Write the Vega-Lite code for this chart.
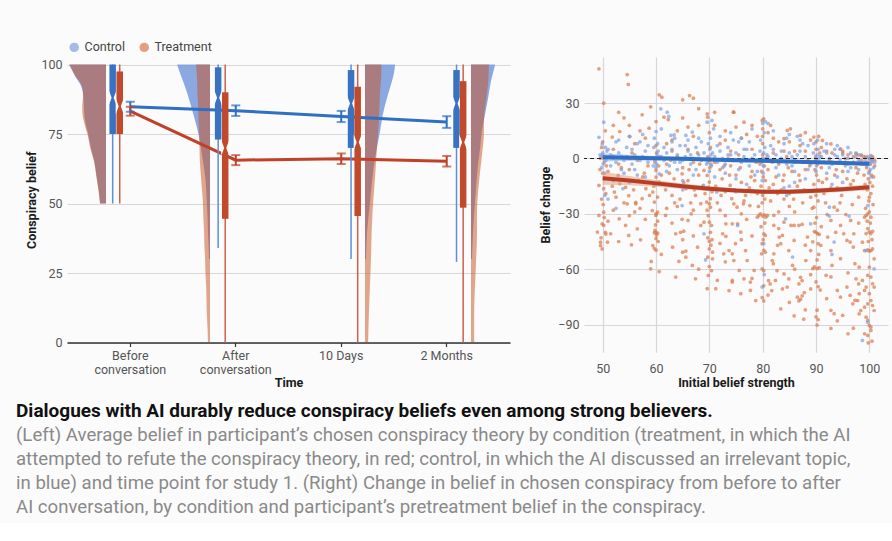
{
"$schema": "https://vega.github.io/schema/vega-lite/v6.json",
"background": "#fbfbfb",
"padding": {"left": 16, "top": 41, "right": 4, "bottom": 6},
"spacing": 29,
"title": {
 "text": "Dialogues with AI durably reduce conspiracy beliefs even among strong believers.",
 "subtitle": ["(Left) Average belief in participant’s chosen conspiracy theory by condition (treatment, in which the AI", "attempted to refute the conspiracy theory, in red; control, in which the AI discussed an irrelevant topic,", "in blue) and time point for study 1. (Right) Change in belief in chosen conspiracy from before to after", "AI conversation, by condition and participant’s pretreatment belief in the conspiracy."],
 "orient": "bottom", "anchor": "start", "frame": "group", "offset": 13, "dx": -51,
 "fontSize": 19, "fontWeight": "bold", "color": "#111111",
 "subtitleFontSize": 18.6, "subtitleColor": "#8a8a8a", "subtitleLineHeight": 24, "subtitlePadding": 5
},
"datasets": {
 "violin": [
  {"t":"Before conversation","c":"Control","v":50,"dens":0.17},{"t":"Before conversation","c":"Control","v":55,"dens":0.21},{"t":"Before conversation","c":"Control","v":60,"dens":0.27},{"t":"Before conversation","c":"Control","v":65,"dens":0.33},{"t":"Before conversation","c":"Control","v":70,"dens":0.43},{"t":"Before conversation","c":"Control","v":75,"dens":0.51},{"t":"Before conversation","c":"Control","v":80,"dens":0.6},{"t":"Before conversation","c":"Control","v":85,"dens":0.63},{"t":"Before conversation","c":"Control","v":90,"dens":0.66},{"t":"Before conversation","c":"Control","v":93,"dens":0.74},{"t":"Before conversation","c":"Control","v":96,"dens":0.89},{"t":"Before conversation","c":"Control","v":98,"dens":0.97},{"t":"Before conversation","c":"Control","v":100,"dens":1.06},
  {"t":"Before conversation","c":"Treatment","v":50,"dens":0.17},{"t":"Before conversation","c":"Treatment","v":55,"dens":0.22},{"t":"Before conversation","c":"Treatment","v":60,"dens":0.28},{"t":"Before conversation","c":"Treatment","v":65,"dens":0.34},{"t":"Before conversation","c":"Treatment","v":70,"dens":0.45},{"t":"Before conversation","c":"Treatment","v":75,"dens":0.53},{"t":"Before conversation","c":"Treatment","v":78,"dens":0.6},{"t":"Before conversation","c":"Treatment","v":82,"dens":0.67},{"t":"Before conversation","c":"Treatment","v":85,"dens":0.68},{"t":"Before conversation","c":"Treatment","v":88,"dens":0.66},{"t":"Before conversation","c":"Treatment","v":90,"dens":0.66},{"t":"Before conversation","c":"Treatment","v":93,"dens":0.71},{"t":"Before conversation","c":"Treatment","v":96,"dens":0.88},{"t":"Before conversation","c":"Treatment","v":98,"dens":0.97},{"t":"Before conversation","c":"Treatment","v":100,"dens":1.03},
  {"t":"After conversation","c":"Control","v":30,"dens":0.03},{"t":"After conversation","c":"Control","v":35,"dens":0.04},{"t":"After conversation","c":"Control","v":40,"dens":0.06},{"t":"After conversation","c":"Control","v":45,"dens":0.07},{"t":"After conversation","c":"Control","v":50,"dens":0.09},{"t":"After conversation","c":"Control","v":55,"dens":0.11},{"t":"After conversation","c":"Control","v":60,"dens":0.14},{"t":"After conversation","c":"Control","v":65,"dens":0.2},{"t":"After conversation","c":"Control","v":70,"dens":0.26},{"t":"After conversation","c":"Control","v":75,"dens":0.33},{"t":"After conversation","c":"Control","v":80,"dens":0.43},{"t":"After conversation","c":"Control","v":85,"dens":0.54},{"t":"After conversation","c":"Control","v":90,"dens":0.66},{"t":"After conversation","c":"Control","v":94,"dens":0.77},{"t":"After conversation","c":"Control","v":97,"dens":0.86},{"t":"After conversation","c":"Control","v":100,"dens":0.94},
  {"t":"After conversation","c":"Treatment","v":0,"dens":0.06},{"t":"After conversation","c":"Treatment","v":5,"dens":0.07},{"t":"After conversation","c":"Treatment","v":10,"dens":0.09},{"t":"After conversation","c":"Treatment","v":15,"dens":0.1},{"t":"After conversation","c":"Treatment","v":20,"dens":0.11},{"t":"After conversation","c":"Treatment","v":25,"dens":0.13},{"t":"After conversation","c":"Treatment","v":30,"dens":0.14},{"t":"After conversation","c":"Treatment","v":35,"dens":0.16},{"t":"After conversation","c":"Treatment","v":40,"dens":0.17},{"t":"After conversation","c":"Treatment","v":45,"dens":0.19},{"t":"After conversation","c":"Treatment","v":50,"dens":0.2},{"t":"After conversation","c":"Treatment","v":55,"dens":0.23},{"t":"After conversation","c":"Treatment","v":60,"dens":0.26},{"t":"After conversation","c":"Treatment","v":65,"dens":0.29},{"t":"After conversation","c":"Treatment","v":70,"dens":0.3},{"t":"After conversation","c":"Treatment","v":75,"dens":0.31},{"t":"After conversation","c":"Treatment","v":80,"dens":0.33},{"t":"After conversation","c":"Treatment","v":85,"dens":0.34},{"t":"After conversation","c":"Treatment","v":90,"dens":0.36},{"t":"After conversation","c":"Treatment","v":95,"dens":0.37},{"t":"After conversation","c":"Treatment","v":100,"dens":0.4},
  {"t":"10 Days","c":"Control","v":30,"dens":0.03},{"t":"10 Days","c":"Control","v":40,"dens":0.06},{"t":"10 Days","c":"Control","v":50,"dens":0.14},{"t":"10 Days","c":"Control","v":58,"dens":0.2},{"t":"10 Days","c":"Control","v":64,"dens":0.26},{"t":"10 Days","c":"Control","v":70,"dens":0.34},{"t":"10 Days","c":"Control","v":76,"dens":0.43},{"t":"10 Days","c":"Control","v":82,"dens":0.51},{"t":"10 Days","c":"Control","v":88,"dens":0.63},{"t":"10 Days","c":"Control","v":94,"dens":0.77},{"t":"10 Days","c":"Control","v":97,"dens":0.83},{"t":"10 Days","c":"Control","v":100,"dens":0.86},
  {"t":"10 Days","c":"Treatment","v":0,"dens":0.09},{"t":"10 Days","c":"Treatment","v":10,"dens":0.11},{"t":"10 Days","c":"Treatment","v":20,"dens":0.14},{"t":"10 Days","c":"Treatment","v":30,"dens":0.17},{"t":"10 Days","c":"Treatment","v":40,"dens":0.19},{"t":"10 Days","c":"Treatment","v":50,"dens":0.23},{"t":"10 Days","c":"Treatment","v":60,"dens":0.29},{"t":"10 Days","c":"Treatment","v":70,"dens":0.34},{"t":"10 Days","c":"Treatment","v":80,"dens":0.4},{"t":"10 Days","c":"Treatment","v":90,"dens":0.43},{"t":"10 Days","c":"Treatment","v":95,"dens":0.46},{"t":"10 Days","c":"Treatment","v":100,"dens":0.47},
  {"t":"2 Months","c":"Control","v":30,"dens":0.03},{"t":"2 Months","c":"Control","v":40,"dens":0.06},{"t":"2 Months","c":"Control","v":50,"dens":0.11},{"t":"2 Months","c":"Control","v":55,"dens":0.14},{"t":"2 Months","c":"Control","v":64,"dens":0.2},{"t":"2 Months","c":"Control","v":70,"dens":0.26},{"t":"2 Months","c":"Control","v":76,"dens":0.31},{"t":"2 Months","c":"Control","v":82,"dens":0.4},{"t":"2 Months","c":"Control","v":88,"dens":0.49},{"t":"2 Months","c":"Control","v":94,"dens":0.57},{"t":"2 Months","c":"Control","v":97,"dens":0.63},{"t":"2 Months","c":"Control","v":100,"dens":0.69},
  {"t":"2 Months","c":"Treatment","v":0,"dens":0.09},{"t":"2 Months","c":"Treatment","v":10,"dens":0.09},{"t":"2 Months","c":"Treatment","v":16,"dens":0.1},{"t":"2 Months","c":"Treatment","v":25,"dens":0.13},{"t":"2 Months","c":"Treatment","v":40,"dens":0.17},{"t":"2 Months","c":"Treatment","v":46,"dens":0.17},{"t":"2 Months","c":"Treatment","v":58,"dens":0.23},{"t":"2 Months","c":"Treatment","v":66,"dens":0.3},{"t":"2 Months","c":"Treatment","v":76,"dens":0.37},{"t":"2 Months","c":"Treatment","v":80,"dens":0.37},{"t":"2 Months","c":"Treatment","v":90,"dens":0.46},{"t":"2 Months","c":"Treatment","v":95,"dens":0.5},{"t":"2 Months","c":"Treatment","v":100,"dens":0.51}
 ],
 "boxes": [
  {"t":"Before conversation","c":"Control","lo":50,"q1":75,"med":88,"q3":100,"hi":100},
  {"t":"Before conversation","c":"Treatment","lo":50,"q1":75,"med":85,"q3":97.5,"hi":100},
  {"t":"After conversation","c":"Control","lo":34,"q1":73,"med":88,"q3":99,"hi":100},
  {"t":"After conversation","c":"Treatment","lo":0,"q1":44.5,"med":70,"q3":90,"hi":100},
  {"t":"10 Days","c":"Control","lo":30,"q1":70,"med":86,"q3":98,"hi":100},
  {"t":"10 Days","c":"Treatment","lo":0,"q1":45.5,"med":72,"q3":92,"hi":100},
  {"t":"2 Months","c":"Control","lo":29,"q1":70,"med":86,"q3":98,"hi":100},
  {"t":"2 Months","c":"Treatment","lo":0,"q1":48.5,"med":72,"q3":94,"hi":100}
 ],
 "means": [
  {"t":"Before conversation","c":"Control","m":84.8,"lo":83,"hi":86.6},
  {"t":"After conversation","c":"Control","m":83.4,"lo":81.5,"hi":85.3},
  {"t":"10 Days","c":"Control","m":81.3,"lo":79.3,"hi":83.3},
  {"t":"2 Months","c":"Control","m":79.3,"lo":77.2,"hi":81.4},
  {"t":"Before conversation","c":"Treatment","m":83.2,"lo":81.6,"hi":84.8},
  {"t":"After conversation","c":"Treatment","m":65.6,"lo":63.8,"hi":67.4},
  {"t":"10 Days","c":"Treatment","m":66.1,"lo":64.2,"hi":68},
  {"t":"2 Months","c":"Treatment","m":65.2,"lo":63.3,"hi":67.1}
 ],
 "trend": [
  {"c":"Control","b":50,"fit":0.6,"lo":-1.6,"hi":2.8},{"c":"Control","b":55,"fit":0.35,"lo":-1.2,"hi":1.9},{"c":"Control","b":60,"fit":0.1,"lo":-1.1,"hi":1.3},{"c":"Control","b":65,"fit":-0.2,"lo":-1.1,"hi":0.7},{"c":"Control","b":70,"fit":-0.5,"lo":-1.3,"hi":0.3},{"c":"Control","b":75,"fit":-0.9,"lo":-1.7,"hi":-0.1},{"c":"Control","b":80,"fit":-1.3,"lo":-2.1,"hi":-0.5},{"c":"Control","b":85,"fit":-1.7,"lo":-2.5,"hi":-0.9},{"c":"Control","b":90,"fit":-2.1,"lo":-2.9,"hi":-1.3},{"c":"Control","b":95,"fit":-2.5,"lo":-3.4,"hi":-1.6},{"c":"Control","b":100,"fit":-2.9,"lo":-4.1,"hi":-1.7},
  {"c":"Treatment","b":50,"fit":-10.7,"lo":-14.2,"hi":-7.2},{"c":"Treatment","b":55,"fit":-12,"lo":-14.5,"hi":-9.5},{"c":"Treatment","b":60,"fit":-13.5,"lo":-15.3,"hi":-11.7},{"c":"Treatment","b":65,"fit":-15.1,"lo":-16.6,"hi":-13.6},{"c":"Treatment","b":70,"fit":-16.4,"lo":-17.7,"hi":-15.1},{"c":"Treatment","b":75,"fit":-17.4,"lo":-18.6,"hi":-16.2},{"c":"Treatment","b":80,"fit":-18,"lo":-19.2,"hi":-16.8},{"c":"Treatment","b":85,"fit":-18,"lo":-19.2,"hi":-16.8},{"c":"Treatment","b":90,"fit":-17.5,"lo":-18.8,"hi":-16.2},{"c":"Treatment","b":95,"fit":-16.7,"lo":-18.1,"hi":-15.3},{"c":"Treatment","b":100,"fit":-15.6,"lo":-17.2,"hi":-14}
 ],
 "ptsT": [
  {"b":49.3,"d":48.6},{"b":54.6,"d":45.5},{"b":54.8,"d":40.1},{"b":50.2,"d":30},{"b":60.6,"d":34.5},{"b":61.1,"d":33.2},{"b":65,"d":31.8},{"b":66.3,"d":34.1},{"b":67,"d":32.7},{"b":57.4,"d":23.7},{"b":69.6,"d":24.2},{"b":69.7,"d":22.4},{"b":74.5,"d":25.1},{"b":58.7,"d":16.4},{"b":61.5,"d":22.4},{"b":62.3,"d":21.1},{"b":53.2,"d":14.6},{"b":51.8,"d":11.6},{"b":55.1,"d":11.9},{"b":74.6,"d":25.1},{"b":76.5,"d":19.7},{"b":79.9,"d":20.6},{"b":80.2,"d":21.5},{"b":81.5,"d":17.9},{"b":84.6,"d":15.2},{"b":85.2,"d":16.1},{"b":87.1,"d":12.5},{"b":84,"d":10.7},{"b":89.6,"d":11.6},{"b":91.2,"d":9.8},{"b":92.8,"d":7.9},{"b":94.6,"d":5.2},{"b":66,"d":17},{"b":67,"d":12},{"b":63,"d":10},{"b":56,"d":8},{"b":52,"d":5},{"b":70,"d":14},{"b":73,"d":10},{"b":79,"d":12},{"b":83,"d":9},{"b":87,"d":7},{"b":89,"d":10},{"b":75,"d":17},{"b":78,"d":18},{"b":72,"d":8},{"b":50,"d":9},{"b":49.8,"d":6},{"b":60,"d":7},{"b":70.2,"d":6},{"b":80,"d":8},{"b":90,"d":9},{"b":68,"d":27},{"b":71,"d":18},{"b":64,"d":15},{"b":54,"d":22},{"b":52,"d":18},{"b":88,"d":14},{"b":90.5,"d":12},{"b":81,"d":14},{"b":76,"d":11},{"b":95,"d":4},{"b":98.5,"d":1.5},{"b":97.5,"d":2.5},
  {"b":50.5,"d":15},{"b":53,"d":25},{"b":57,"d":15},{"b":59,"d":28},{"b":62,"d":8},{"b":65,"d":22},{"b":68,"d":18},{"b":71,"d":25},{"b":73,"d":15},{"b":77,"d":13},{"b":80,"d":16},{"b":82,"d":11},{"b":85,"d":9},{"b":88,"d":4},{"b":91,"d":6},{"b":93,"d":3},{"b":96,"d":2},{"b":99,"d":1},{"b":66,"d":5},{"b":58,"d":11},{"b":63,"d":4},{"b":74,"d":4},{"b":84,"d":4},{"b":78,"d":5},{"b":90,"d":5},{"b":80,"d":12},{"b":60,"d":20},{"b":55,"d":18},
  {"b":50,"d":2},{"b":49.6,"d":0},{"b":50.3,"d":-2},{"b":50.7,"d":-4},{"b":49.5,"d":-6},{"b":50,"d":-8},{"b":50.4,"d":-11},{"b":49.3,"d":-14.6},{"b":50.2,"d":-16.4},{"b":50.6,"d":-19},{"b":49.8,"d":-22},{"b":50.1,"d":-25},
  {"b":51.8,"d":-15},{"b":52.9,"d":-9.2},{"b":53.2,"d":-13.7},{"b":52.2,"d":-18.2},{"b":54.3,"d":-15.6},{"b":54.9,"d":-20.2},{"b":56.2,"d":-23.8},{"b":58.1,"d":-16.4},{"b":57.4,"d":-21.8},{"b":53,"d":-3},{"b":55,"d":-6},{"b":56.5,"d":-1},{"b":57.5,"d":-10},{"b":58.5,"d":-4},{"b":52,"d":1},{"b":55.5,"d":3},{"b":54,"d":-24},{"b":56.8,"d":-12},
  {"b":60,"d":-6.5},{"b":60,"d":-10.1},{"b":60.6,"d":-12.8},{"b":59.4,"d":-18.2},{"b":60.3,"d":-20.9},{"b":59.7,"d":-23.6},{"b":60.2,"d":0},{"b":59.8,"d":-2},{"b":60.5,"d":-4},{"b":60.1,"d":3},{"b":59.6,"d":-15},
  {"b":63.4,"d":-11},{"b":64.9,"d":-8.3},{"b":65.6,"d":-16.4},{"b":67.4,"d":-20},{"b":68.4,"d":-24.5},{"b":62,"d":-3},{"b":63,"d":-20},{"b":64,"d":1},{"b":65,"d":-5},{"b":66,"d":-12},{"b":67,"d":-2},{"b":68,"d":-9},{"b":61.5,"d":-14},{"b":66.5,"d":-24},{"b":62.5,"d":-8},{"b":64.5,"d":-22},{"b":67.8,"d":3},{"b":68.8,"d":-15},
  {"b":69,"d":-6.5},{"b":69.6,"d":-9.2},{"b":70,"d":-12.8},{"b":69.8,"d":-15.5},{"b":70.2,"d":-21.8},{"b":69.5,"d":-23.6},{"b":70,"d":-1},{"b":70.3,"d":-3},{"b":69.7,"d":1},{"b":70.5,"d":-18},{"b":70.1,"d":-5},
  {"b":72.4,"d":-11},{"b":73.9,"d":-14.6},{"b":74.2,"d":-21.8},{"b":71,"d":-2},{"b":72,"d":-6},{"b":73,"d":-18},{"b":74,"d":-4},{"b":75,"d":-9},{"b":76,"d":-13},{"b":77,"d":-1},{"b":78,"d":-7},{"b":79,"d":-19},{"b":71.5,"d":-24},{"b":76.5,"d":-23},{"b":75.5,"d":2},{"b":78.5,"d":-12},{"b":77.5,"d":-16},{"b":73.5,"d":0},{"b":79.5,"d":-3},
  {"b":80,"d":-1},{"b":80.3,"d":-4},{"b":79.8,"d":-7},{"b":80.1,"d":-10},{"b":80.5,"d":-12},{"b":79.7,"d":-15},{"b":80.2,"d":-18},{"b":80,"d":-20},{"b":80.4,"d":-22},{"b":79.9,"d":-24},{"b":80,"d":2},{"b":80.6,"d":0},
  {"b":81,"d":-6},{"b":82,"d":-14},{"b":83,"d":-3},{"b":84,"d":-9},{"b":85,"d":-19},{"b":86,"d":-2},{"b":87,"d":-12},{"b":88,"d":-6},{"b":89,"d":-21},{"b":81.5,"d":-23},{"b":82.5,"d":-10},{"b":83.5,"d":-17},{"b":84.5,"d":1},{"b":85.5,"d":-7},{"b":86.5,"d":-15},{"b":87.5,"d":-24},{"b":88.5,"d":-1},{"b":82,"d":3},{"b":86,"d":4},{"b":84,"d":-22},
  {"b":90,"d":-1},{"b":90.3,"d":-3},{"b":89.8,"d":-6},{"b":90.1,"d":-9},{"b":90.5,"d":-12},{"b":89.6,"d":-14},{"b":90.2,"d":-17},{"b":90,"d":-20},{"b":90.4,"d":-23},{"b":89.9,"d":1},{"b":90.7,"d":3},
  {"b":91,"d":-5},{"b":92,"d":-11},{"b":93,"d":-2},{"b":94,"d":-16},{"b":95,"d":-7},{"b":96,"d":-3},{"b":97,"d":-12},{"b":98,"d":-21},{"b":91.5,"d":-19},{"b":92.5,"d":-1},{"b":93.5,"d":-9},{"b":94.5,"d":-24},{"b":95.5,"d":0},{"b":96.5,"d":-14},{"b":97.5,"d":-5},{"b":98.5,"d":-1},{"b":99,"d":-9},{"b":92,"d":4},{"b":95,"d":3},{"b":97,"d":1},{"b":98,"d":2},
  {"b":99.3,"d":0.7},{"b":100.3,"d":1.6},{"b":100,"d":0},{"b":100.5,"d":-1},{"b":99.7,"d":-2},{"b":100.2,"d":-3},{"b":100.6,"d":0.5},{"b":99.5,"d":-5},{"b":100,"d":-7},{"b":100.4,"d":-9},{"b":99.8,"d":-11},{"b":100.1,"d":-13},{"b":100.6,"d":-15},{"b":99.6,"d":-17},{"b":100.3,"d":-19},{"b":100,"d":-21},{"b":99.9,"d":-23},{"b":100.7,"d":-25},{"b":101,"d":-1},{"b":101,"d":-4},{"b":99.2,"d":-14},{"b":100.8,"d":-10},
  {"b":51,"d":-7},{"b":52.5,"d":-21},{"b":53.5,"d":-5},{"b":55.8,"d":-17},{"b":57.8,"d":-8},{"b":58.8,"d":-20},{"b":61,"d":-9},{"b":61.8,"d":-17},{"b":62.8,"d":-1},{"b":63.5,"d":-24},{"b":65.2,"d":-13},{"b":66.2,"d":-6},{"b":67.2,"d":-17},{"b":68.2,"d":-3},{"b":69.2,"d":-19},{"b":71.2,"d":-15},{"b":72.2,"d":-20},{"b":72.8,"d":-4},{"b":73.8,"d":-9},{"b":74.8,"d":-17},{"b":75.8,"d":-5},{"b":76.8,"d":-20},{"b":77.8,"d":-10},{"b":78.8,"d":-2},{"b":79.2,"d":-26},{"b":81.2,"d":-16},{"b":81.8,"d":-2},{"b":82.8,"d":-19},{"b":83.8,"d":-12},{"b":84.8,"d":-5},{"b":85.8,"d":-22},{"b":86.8,"d":-9},{"b":87.8,"d":-17},{"b":88.8,"d":-4},{"b":89.3,"d":-27},{"b":91.2,"d":-13},{"b":91.8,"d":-24},{"b":92.8,"d":-16},{"b":93.8,"d":-6},{"b":94.8,"d":-20},{"b":95.8,"d":-11},{"b":96.8,"d":-25},{"b":97.8,"d":-8},{"b":98.8,"d":-16},{"b":99.3,"d":-27},{"b":100.2,"d":-35},{"b":99.6,"d":-34},{"b":100.5,"d":-44},{"b":99.8,"d":-45},{"b":80.4,"d":-35},{"b":79.7,"d":-37},{"b":80.1,"d":-44},{"b":90.1,"d":-32},{"b":89.8,"d":-35},{"b":90.5,"d":-52},{"b":90.2,"d":-55},{"b":70.2,"d":-40},{"b":69.8,"d":-31},{"b":60.3,"d":-34},{"b":59.9,"d":-36},{"b":60.4,"d":-45},{"b":50.3,"d":-32},{"b":49.7,"d":-43},{"b":65,"d":-44},{"b":67,"d":-42},{"b":72,"d":-46},{"b":76,"d":-30},{"b":78,"d":-42},{"b":83,"d":-38},{"b":86,"d":-29},{"b":88,"d":-47},{"b":91,"d":-37},{"b":94,"d":-28},{"b":97,"d":-48},{"b":98,"d":-35},{"b":85,"d":-26},{"b":77,"d":-33},{"b":63,"d":-35},{"b":56,"d":-29},{"b":53,"d":-45},{"b":61,"d":-52},{"b":68,"d":-60},{"b":73,"d":-56},{"b":76,"d":-44},{"b":82,"d":-57},{"b":86,"d":-60},{"b":89,"d":-63},{"b":93,"d":-58},{"b":96,"d":-62},{"b":98,"d":-68},{"b":95,"d":-85},{"b":92,"d":-76},{"b":88,"d":-82},{"b":85,"d":-78},{"b":81,"d":-74},{"b":78,"d":-65},{"b":97,"d":-92},{"b":94,"d":-88},{"b":96,"d":-95},
  {"b":49.3,"d":-30.9},{"b":50.2,"d":-29.1},{"b":49.9,"d":-35.4},{"b":50.2,"d":-36.3},{"b":49,"d":-39.9},{"b":50.5,"d":-40},{"b":50.6,"d":-41},{"b":51.5,"d":-40.8},{"b":49.6,"d":-45.4},{"b":49.6,"d":-47.2},{"b":49.9,"d":-49},{"b":50.9,"d":-45.4},{"b":53.1,"d":-32.7},{"b":54.3,"d":-36.3},{"b":54.9,"d":-41.7},{"b":56.5,"d":-38.1},{"b":57.1,"d":-44.1},{"b":55.4,"d":-46.8},{"b":54.6,"d":-24.6},{"b":56.2,"d":-24.6},
  {"b":59.3,"d":-28.2},{"b":60.3,"d":-29.1},{"b":60,"d":-30.9},{"b":60,"d":-30},{"b":60,"d":-40},{"b":59.8,"d":-39},{"b":60.3,"d":-40.5},{"b":60.1,"d":-41.5},{"b":59.7,"d":-40.3},{"b":59.4,"d":-47.2},{"b":59.7,"d":-48.8},{"b":60,"d":-49.7},{"b":60,"d":-43.4},{"b":59.1,"d":-55.8},{"b":59,"d":-59.8},{"b":60.6,"d":-61.3},{"b":61.8,"d":-30.9},{"b":63.7,"d":-40.8},{"b":64.6,"d":-40},{"b":65.2,"d":-39.4},{"b":63.1,"d":-48.1},{"b":65.6,"d":-50.2},{"b":65,"d":-50.8},{"b":64.3,"d":-55.8},{"b":65.6,"d":-53.5},{"b":63.7,"d":-64.3},{"b":66.8,"d":-58},{"b":67.4,"d":-65.2},{"b":67.8,"d":-48.1},{"b":68.4,"d":-36.3},{"b":69,"d":-34.5},{"b":66,"d":-33.6},{"b":66.6,"d":-30},{"b":64.9,"d":-33},
  {"b":70,"d":-24.6},{"b":70.2,"d":-26.5},{"b":69.6,"d":-28},{"b":70.4,"d":-36.3},{"b":70,"d":-34.5},{"b":69.7,"d":-43},{"b":70.5,"d":-44},{"b":70,"d":-44.9},{"b":70.3,"d":-47},{"b":70,"d":-49},{"b":70.6,"d":-50.8},{"b":69.7,"d":-53.5},{"b":70.6,"d":-54.4},{"b":70,"d":-58.6},{"b":70.4,"d":-60.8},{"b":69.8,"d":-63.4},{"b":69.6,"d":-70.6},{"b":71.5,"d":-66.1},{"b":71.2,"d":-70.6},{"b":72.5,"d":-40.8},{"b":73.1,"d":-42.2},{"b":73.7,"d":-49.9},{"b":72.7,"d":-51.7},{"b":74.3,"d":-35.4},{"b":73.1,"d":-35.4},{"b":74.3,"d":-51.7},{"b":74.3,"d":-67},{"b":73.7,"d":-71.6},
  {"b":74.6,"d":-24.6},{"b":75.2,"d":-26.4},{"b":76.4,"d":-24.6},{"b":77.6,"d":-25.5},{"b":79.3,"d":-30.9},{"b":79.6,"d":-30},{"b":80,"d":-31.2},{"b":80.3,"d":-30.5},{"b":80.6,"d":-31.8},{"b":79,"d":-31.8},{"b":80.9,"d":-30.9},{"b":82.1,"d":-30.9},{"b":83,"d":-28.9},{"b":85.3,"d":-36.3},{"b":85.9,"d":-36.3},{"b":86.8,"d":-36.3},{"b":87.4,"d":-35.7},{"b":83.1,"d":-42.6},{"b":83.4,"d":-46.2},{"b":83.7,"d":-41.7},{"b":80.2,"d":-40.8},{"b":80.5,"d":-41.7},{"b":79.9,"d":-46.2},{"b":80.2,"d":-49.8},{"b":80.5,"d":-50.8},{"b":79.8,"d":-51.7},{"b":82.1,"d":-51.7},{"b":81.8,"d":-55.3},{"b":82.7,"d":-60.8},{"b":79.9,"d":-59.9},{"b":80.2,"d":-60.8},{"b":81.1,"d":-66.2},{"b":81.4,"d":-68},{"b":81.7,"d":-71.6},{"b":80.2,"d":-69},{"b":79.9,"d":-75.4},{"b":80.2,"d":-77.2},{"b":83.4,"d":-81.5},{"b":83.7,"d":-70.7},{"b":84.9,"d":-65.3},{"b":87.1,"d":-64.4},{"b":87.4,"d":-66.2},{"b":86.8,"d":-68},{"b":87.1,"d":-76.3},{"b":87.4,"d":-74.5},{"b":87.8,"d":-72.7},{"b":86.8,"d":-77.2},{"b":85.9,"d":-85.3},{"b":87.7,"d":-87.1},{"b":84,"d":-62.6},{"b":89,"d":-70.7},
  {"b":90,"d":-40},{"b":90.3,"d":-40.7},{"b":90.6,"d":-41.2},{"b":89.7,"d":-39.6},{"b":89.4,"d":-45.2},{"b":90.4,"d":-46.2},{"b":90.9,"d":-47.1},{"b":89.7,"d":-58.8},{"b":90.2,"d":-59.7},{"b":90.6,"d":-59.2},{"b":89.4,"d":-59.7},{"b":90,"d":-66.9},{"b":90.4,"d":-69.5},{"b":90.8,"d":-71.3},{"b":90.2,"d":-82.2},{"b":90,"d":-85.8},{"b":90.4,"d":-87.3},{"b":90.2,"d":-90.3},{"b":92.8,"d":-92.1},{"b":91.9,"d":-63.3},{"b":92.8,"d":-64.2},{"b":94,"d":-71.5},{"b":94.6,"d":-75.1},{"b":92.8,"d":-82.3},{"b":93.4,"d":-84.1},{"b":95.8,"d":-69.7},{"b":96.4,"d":-74.2},{"b":97.3,"d":-76.9},{"b":94.6,"d":-54.3},{"b":95.8,"d":-44.4},{"b":96.4,"d":-45.3},{"b":92.8,"d":-49.9},{"b":92.2,"d":-42.6},{"b":93.7,"d":-40},{"b":97.3,"d":-57},
  {"b":99.4,"d":-30.9},{"b":99.7,"d":-30},{"b":100.3,"d":-31.8},{"b":100,"d":-29},{"b":99.1,"d":-31.8},{"b":99.7,"d":-38},{"b":100,"d":-39.8},{"b":100.3,"d":-40.7},{"b":100.6,"d":-39.5},{"b":99.4,"d":-40.7},{"b":99.1,"d":-49.9},{"b":99.7,"d":-49.5},{"b":100,"d":-50.2},{"b":100.3,"d":-49.9},{"b":100.6,"d":-49},{"b":98.7,"d":-45.4},{"b":100.9,"d":-54.4},{"b":100,"d":-58.9},{"b":99.7,"d":-63.4},{"b":100.3,"d":-64.3},{"b":100.6,"d":-67.9},{"b":99.4,"d":-69.7},{"b":100,"d":-73.3},{"b":100.3,"d":-77},{"b":99.7,"d":-78.8},{"b":99.1,"d":-80.6},{"b":100.6,"d":-79.7},{"b":99.4,"d":-86},{"b":99.7,"d":-87.8},{"b":100,"d":-90.5},{"b":100.3,"d":-93.2},{"b":99.1,"d":-95},{"b":99.7,"d":-95.9},{"b":100.3,"d":-91.4},{"b":100.9,"d":-82.4},{"b":99.1,"d":-71.5},{"b":98.7,"d":-66.1},{"b":100.9,"d":-69.7},{"b":98.1,"d":-58.9},{"b":97.5,"d":-65.2},{"b":98.1,"d":-73.3},{"b":97.8,"d":-77},{"b":96.9,"d":-78.8},{"b":98.4,"d":-82.4},{"b":98.1,"d":-84.2},{"b":100.5,"d":-99},{"b":99.8,"d":-100},
  {"b":75.3,"d":-35.4},{"b":75.9,"d":-39.9},{"b":74.9,"d":-46.2},{"b":76.8,"d":-49.9},{"b":74.6,"d":-55.3},{"b":75.6,"d":-60.7},{"b":74.3,"d":-66.1},{"b":76.5,"d":-65.2},{"b":77.7,"d":-67},{"b":77.1,"d":-55.3},{"b":78.4,"d":-60.7},{"b":75.9,"d":-73.3},{"b":77.7,"d":-71.5},{"b":78.7,"d":-77},
  {"b":82.1,"d":-36.3},{"b":84,"d":-34.5},{"b":82.8,"d":-47.1},{"b":84.9,"d":-49.9},{"b":85.9,"d":-44.4},{"b":88.4,"d":-42.6},{"b":89,"d":-49.9},{"b":88.1,"d":-55.3},{"b":85.6,"d":-58},{"b":82.4,"d":-66.1},{"b":84.6,"d":-69.7},{"b":86.5,"d":-75.2},
  {"b":92.8,"d":-33.6},{"b":94.6,"d":-36.3},{"b":95.6,"d":-30.4},{"b":96.5,"d":-33.6},{"b":97.1,"d":-40.8},{"b":95.2,"d":-40.8},{"b":93.4,"d":-26.4},{"b":92.1,"d":-30.4},{"b":89.6,"d":-26.4},
  {"b":62,"d":-27},{"b":64,"d":-26},{"b":67,"d":-28},{"b":72,"d":-28},{"b":73,"d":-31},{"b":57,"d":-27},{"b":58,"d":-33},{"b":52,"d":-28},{"b":55,"d":-31},{"b":51,"d":-34}
 ],
 "ptsC": [
  {"b":50.2,"d":19.7},{"b":49.3,"d":11.5},{"b":49.9,"d":7.9},{"b":60,"d":14.6},{"b":59.7,"d":11},{"b":60.9,"d":26.9},{"b":62.1,"d":25.1},{"b":62.4,"d":22.8},{"b":69.6,"d":19.7},{"b":70.5,"d":20.6},{"b":70.8,"d":16.1},{"b":65.6,"d":12.5},{"b":66.8,"d":14.3},{"b":62.8,"d":12.5},{"b":63.4,"d":12.8},{"b":50.4,"d":-20},{"b":60,"d":-13.7},{"b":60.6,"d":-8.3},{"b":68.9,"d":-14.6},{"b":71.4,"d":-18.2},{"b":53.8,"d":-16.4},
  {"b":50,"d":3},{"b":49.7,"d":1},{"b":50.3,"d":0},{"b":50.6,"d":-1},{"b":49.5,"d":2},{"b":50.1,"d":-3},{"b":50.8,"d":4},{"b":49.8,"d":-5},{"b":50.4,"d":-8},{"b":51,"d":5},
  {"b":51.5,"d":2},{"b":52,"d":0},{"b":52.5,"d":-2},{"b":53,"d":3},{"b":53.5,"d":1},{"b":54,"d":-1},{"b":54.5,"d":6},{"b":55,"d":0},{"b":55.5,"d":-3},{"b":56,"d":2},{"b":56.5,"d":8},{"b":57,"d":-1},{"b":57.5,"d":1},{"b":58,"d":4},{"b":58.5,"d":-2},{"b":59,"d":0},{"b":53,"d":10},{"b":55,"d":12},{"b":57,"d":9},{"b":54,"d":-8},{"b":56,"d":-6},{"b":58,"d":-10},{"b":52,"d":-12},{"b":51,"d":-22},{"b":52.5,"d":-27},
  {"b":60,"d":0},{"b":60.2,"d":2},{"b":59.8,"d":-1},{"b":60.4,"d":4},{"b":60.1,"d":-3},{"b":59.6,"d":6},{"b":60.3,"d":8},{"b":60,"d":-5},
  {"b":61,"d":1},{"b":61.5,"d":-1},{"b":62,"d":3},{"b":62.5,"d":0},{"b":63,"d":5},{"b":63.5,"d":-2},{"b":64,"d":2},{"b":64.5,"d":7},{"b":65,"d":-1},{"b":65.5,"d":1},{"b":66,"d":4},{"b":66.5,"d":-3},{"b":67,"d":0},{"b":67.5,"d":6},{"b":68,"d":2},{"b":68.5,"d":-1},{"b":69,"d":3},{"b":63,"d":9},{"b":66,"d":10},{"b":61,"d":16},{"b":64,"d":-6},{"b":67,"d":-9},{"b":65,"d":-12},{"b":62,"d":-7},{"b":68,"d":11},
  {"b":70,"d":0},{"b":70.3,"d":2},{"b":69.7,"d":-2},{"b":70.1,"d":5},{"b":70.4,"d":-4},{"b":69.8,"d":8},{"b":70.2,"d":11},{"b":70,"d":-7},
  {"b":71,"d":1},{"b":71.5,"d":-2},{"b":72,"d":4},{"b":72.5,"d":0},{"b":73,"d":-3},{"b":73.5,"d":6},{"b":74,"d":2},{"b":74.5,"d":-1},{"b":75,"d":3},{"b":75.5,"d":9},{"b":76,"d":-2},{"b":76.5,"d":1},{"b":77,"d":5},{"b":77.5,"d":-4},{"b":78,"d":0},{"b":78.5,"d":2},{"b":79,"d":-1},{"b":72,"d":12},{"b":74,"d":14},{"b":76,"d":11},{"b":78,"d":16},{"b":73,"d":-8},{"b":75,"d":-11},{"b":77,"d":-14},{"b":79,"d":-7},{"b":71,"d":-10},
  {"b":80,"d":0},{"b":80.2,"d":3},{"b":79.8,"d":-2},{"b":80.4,"d":6},{"b":80.1,"d":-4},{"b":79.6,"d":10},{"b":80.3,"d":14},{"b":80,"d":19},{"b":80.5,"d":20},{"b":80.1,"d":-8},{"b":79.9,"d":-12},
  {"b":81,"d":1},{"b":81.5,"d":-1},{"b":82,"d":5},{"b":82.5,"d":2},{"b":83,"d":-2},{"b":83.5,"d":0},{"b":84,"d":8},{"b":84.5,"d":-3},{"b":85,"d":3},{"b":85.5,"d":1},{"b":86,"d":-1},{"b":86.5,"d":12},{"b":87,"d":4},{"b":87.5,"d":-2},{"b":88,"d":1},{"b":88.5,"d":7},{"b":89,"d":-3},{"b":82,"d":15},{"b":85,"d":13},{"b":87,"d":10},{"b":83,"d":-9},{"b":86,"d":-7},{"b":88,"d":-11},{"b":84,"d":-16},{"b":81,"d":19},{"b":84.5,"d":-20},{"b":86,"d":-13},
  {"b":90,"d":0},{"b":90.2,"d":2},{"b":89.8,"d":-2},{"b":90.4,"d":5},{"b":90.1,"d":-4},{"b":89.6,"d":8},{"b":90.3,"d":10},{"b":90,"d":-7},{"b":90.5,"d":-1},
  {"b":91,"d":1},{"b":91.5,"d":-2},{"b":92,"d":3},{"b":92.5,"d":0},{"b":93,"d":-3},{"b":93.5,"d":5},{"b":94,"d":1},{"b":94.5,"d":-1},{"b":95,"d":2},{"b":95.5,"d":-4},{"b":96,"d":0},{"b":96.5,"d":3},{"b":97,"d":-2},{"b":97.5,"d":1},{"b":98,"d":-1},{"b":98.5,"d":2},{"b":99,"d":-3},{"b":92,"d":8},{"b":94,"d":7},{"b":96,"d":6},{"b":92,"d":-8},{"b":94,"d":-10},{"b":96,"d":-7},{"b":98,"d":-6},{"b":93,"d":-14},
  {"b":100,"d":0},{"b":100.3,"d":-1},{"b":99.7,"d":1},{"b":100.5,"d":-2},{"b":100.1,"d":-3},{"b":99.5,"d":-4},{"b":100.6,"d":1},{"b":100.2,"d":-6},{"b":99.9,"d":-8},{"b":100.4,"d":-10},{"b":101,"d":-2},{"b":100.8,"d":-5},
  {"b":50.5,"d":6},{"b":51.5,"d":-4},{"b":52.5,"d":9},{"b":53.5,"d":-6},{"b":54.5,"d":1},{"b":55.5,"d":5},{"b":56.5,"d":-9},{"b":57.5,"d":13},{"b":58.5,"d":7},{"b":59.5,"d":-4},{"b":61.5,"d":6},{"b":62.5,"d":-4},{"b":63.5,"d":11},{"b":64.5,"d":-2},{"b":65.5,"d":7},{"b":66.5,"d":2},{"b":67.5,"d":-6},{"b":68.5,"d":9},{"b":69.5,"d":-3},{"b":71.5,"d":7},{"b":72.5,"d":-5},{"b":73.5,"d":2},{"b":74.5,"d":10},{"b":75.5,"d":-6},{"b":76.5,"d":5},{"b":77.5,"d":9},{"b":78.5,"d":-9},{"b":79.5,"d":4},{"b":81.5,"d":7},{"b":82.5,"d":-5},{"b":83.5,"d":4},{"b":84.5,"d":11},{"b":85.5,"d":-4},{"b":86.5,"d":2},{"b":87.5,"d":8},{"b":88.5,"d":-6},{"b":89.5,"d":3},{"b":91.5,"d":4},{"b":92.5,"d":-5},{"b":93.5,"d":2},{"b":94.5,"d":5},{"b":95.5,"d":-2},{"b":96.5,"d":-5},{"b":97.5,"d":3},{"b":98.5,"d":-3},{"b":99.2,"d":-1},{"b":80.8,"d":2},{"b":70.6,"d":3},{"b":60.7,"d":1},{"b":90.7,"d":1},{"b":75,"d":-18},{"b":85,"d":-15},{"b":65,"d":-17},{"b":95,"d":-13},{"b":55,"d":-13},
  {"b":75.3,"d":-36.3},{"b":80.2,"d":-46.2},{"b":84.3,"d":-32.7},{"b":89,"d":-35.4},{"b":92.5,"d":-26.4},{"b":93.4,"d":-45.3},{"b":96.2,"d":-31.2},{"b":99.7,"d":-25.5},{"b":99.4,"d":-49.9},{"b":85.6,"d":-53.4},{"b":79.9,"d":-69.7},{"b":100.9,"d":-59.8},{"b":99.7,"d":-88.7},{"b":98.7,"d":-98.6},{"b":92.5,"d":-31.2},{"b":64.9,"d":-25.5},{"b":69,"d":-40.8},{"b":69.3,"d":-55},{"b":80.3,"d":-63},{"b":93,"d":-52}
 ]
},
"hconcat": [
 {
  "width": 443, "height": 285.5,
  "resolve": {"scale": {"x": "independent"}},
  "layer": [
   {"data": {"name": "violin"}, "transform": [{"filter": {"field": "t", "equal": "Before conversation"}}],
    "mark": {"type": "area", "orient": "horizontal", "interpolate": "monotone"},
    "encoding": {
     "y": {"field": "v", "type": "quantitative", "title": "Conspiracy belief", "scale": {"domain": [0, 102.7], "nice": false}},
     "x": {"field": "dens", "type": "quantitative", "scale": {"domain": [-11.543, 1.114], "reverse": true, "nice": false, "zero": false}, "axis": null},
     "x2": {"datum": 0},
     "detail": {"field": "c"},
     "fill": {"condition": {"test": "datum.c === 'Treatment'", "value": "#c8501e"}, "value": "#7f9ede"},
     "fillOpacity": {"condition": {"test": "datum.c === 'Treatment'", "value": 0.5}, "value": 0.9}
    }},
   {"data": {"name": "violin"}, "transform": [{"filter": {"field": "t", "equal": "After conversation"}}],
    "mark": {"type": "area", "orient": "horizontal", "interpolate": "monotone"},
    "encoding": {
     "y": {"field": "v", "type": "quantitative", "title": "Conspiracy belief", "scale": {"domain": [0, 102.7], "nice": false}},
     "x": {"field": "dens", "type": "quantitative", "scale": {"domain": [-8.571, 4.086], "reverse": true, "nice": false, "zero": false}, "axis": null},
     "x2": {"datum": 0},
     "detail": {"field": "c"},
     "fill": {"condition": {"test": "datum.c === 'Treatment'", "value": "#c8501e"}, "value": "#7f9ede"},
     "fillOpacity": {"condition": {"test": "datum.c === 'Treatment'", "value": 0.5}, "value": 0.9}
    }},
   {"data": {"name": "violin"}, "transform": [{"filter": {"field": "t", "equal": "10 Days"}}],
    "mark": {"type": "area", "orient": "horizontal", "interpolate": "monotone"},
    "encoding": {
     "y": {"field": "v", "type": "quantitative", "title": "Conspiracy belief", "scale": {"domain": [0, 102.7], "nice": false}},
     "x": {"field": "dens", "type": "quantitative", "scale": {"domain": [-8.514, 4.143], "nice": false, "zero": false}, "axis": null},
     "x2": {"datum": 0},
     "detail": {"field": "c"},
     "fill": {"condition": {"test": "datum.c === 'Treatment'", "value": "#c8501e"}, "value": "#7f9ede"},
     "fillOpacity": {"condition": {"test": "datum.c === 'Treatment'", "value": 0.5}, "value": 0.9}
    }},
   {"data": {"name": "violin"}, "transform": [{"filter": {"field": "t", "equal": "2 Months"}}],
    "mark": {"type": "area", "orient": "horizontal", "interpolate": "monotone"},
    "encoding": {
     "y": {"field": "v", "type": "quantitative", "title": "Conspiracy belief", "scale": {"domain": [0, 102.7], "nice": false}},
     "x": {"field": "dens", "type": "quantitative", "scale": {"domain": [-11.543, 1.114], "nice": false, "zero": false}, "axis": null},
     "x2": {"datum": 0},
     "detail": {"field": "c"},
     "fill": {"condition": {"test": "datum.c === 'Treatment'", "value": "#c8501e"}, "value": "#7f9ede"},
     "fillOpacity": {"condition": {"test": "datum.c === 'Treatment'", "value": 0.5}, "value": 0.9}
    }},
   {
    "layer": [
     {"data": {"name": "means"}, "mark": {"type": "line", "strokeWidth": 3},
      "encoding": {
       "x": {"field": "t", "type": "nominal", "bandPosition": 0.5, "title": "Time", "scale": {"type": "band", "domain": ["Before conversation", "After conversation", "10 Days", "2 Months"], "paddingInner": 0, "paddingOuter": 0.1},
        "axis": {"domain": true, "domainColor": "#333333", "domainWidth": 1.5, "ticks": true, "tickColor": "#333333", "tickSize": 4, "tickWidth": 1.2, "labelAngle": 0, "labelPadding": 3, "labelLineHeight": 14, "labelExpr": "datum.value == 'Before conversation' ? ['Before', 'conversation'] : datum.value == 'After conversation' ? ['After', 'conversation'] : datum.value", "titlePadding": 0, "grid": false}},
       "y": {"field": "m", "type": "quantitative", "title": "Conspiracy belief", "scale": {"domain": [0, 102.7], "nice": false}, "axis": {"values": [0, 25, 50, 75, 100], "grid": true, "titlePadding": 2}},
       "detail": {"field": "c"},
       "color": {"condition": {"test": "datum.c === 'Control'", "value": "#2f6fc4"}, "value": "#c0412a"}
      }},
     {"data": {"name": "boxes"}, "transform": [{"filter": {"and": [{"field": "c", "equal": "Control"}, {"field": "t", "oneOf": ["Before conversation", "After conversation"]}]}}],
      "mark": {"type": "rule", "strokeWidth": 1.5, "color": "#5a90da"},
      "encoding": {"x": {"field": "t", "type": "nominal", "bandPosition": 0.333, "title": "Time", "scale": {"type": "band", "domain": ["Before conversation", "After conversation", "10 Days", "2 Months"], "paddingInner": 0, "paddingOuter": 0.1}},
       "y": {"field": "lo", "type": "quantitative", "title": "Conspiracy belief"}, "y2": {"field": "hi"}}},
     {"data": {"name": "boxes"}, "transform": [{"filter": {"and": [{"field": "c", "equal": "Control"}, {"field": "t", "oneOf": ["Before conversation", "After conversation"]}]}}],
      "mark": {"type": "rule", "strokeWidth": 6.5, "strokeCap": "butt", "color": "#3a72c2"},
      "encoding": {"x": {"field": "t", "type": "nominal", "bandPosition": 0.333, "title": "Time", "scale": {"type": "band", "domain": ["Before conversation", "After conversation", "10 Days", "2 Months"], "paddingInner": 0, "paddingOuter": 0.1}},
       "y": {"field": "q1", "type": "quantitative", "title": "Conspiracy belief"}, "y2": {"field": "q3"}}},
     {"data": {"name": "boxes"}, "transform": [{"filter": {"and": [{"field": "c", "equal": "Control"}, {"field": "t", "oneOf": ["Before conversation", "After conversation"]}]}}],
      "mark": {"type": "point", "shape": "M -0.5 -1 L -0.13 0 L -0.5 1 Z M 0.5 -1 L 0.13 0 L 0.5 1 Z", "size": 256, "filled": true, "opacity": 1, "color": "#fbfbfb", "strokeWidth": 0},
      "encoding": {"x": {"field": "t", "type": "nominal", "bandPosition": 0.333, "title": "Time", "scale": {"type": "band", "domain": ["Before conversation", "After conversation", "10 Days", "2 Months"], "paddingInner": 0, "paddingOuter": 0.1}},
       "y": {"field": "med", "type": "quantitative", "title": "Conspiracy belief"}}},
     {"data": {"name": "boxes"}, "transform": [{"filter": {"and": [{"field": "c", "equal": "Treatment"}, {"field": "t", "oneOf": ["Before conversation", "After conversation"]}]}}],
      "mark": {"type": "rule", "strokeWidth": 1.5, "color": "#d0604a"},
      "encoding": {"x": {"field": "t", "type": "nominal", "bandPosition": 0.4, "title": "Time", "scale": {"type": "band", "domain": ["Before conversation", "After conversation", "10 Days", "2 Months"], "paddingInner": 0, "paddingOuter": 0.1}},
       "y": {"field": "lo", "type": "quantitative", "title": "Conspiracy belief"}, "y2": {"field": "hi"}}},
     {"data": {"name": "boxes"}, "transform": [{"filter": {"and": [{"field": "c", "equal": "Treatment"}, {"field": "t", "oneOf": ["Before conversation", "After conversation"]}]}}],
      "mark": {"type": "rule", "strokeWidth": 6.5, "strokeCap": "butt", "color": "#c24a2c"},
      "encoding": {"x": {"field": "t", "type": "nominal", "bandPosition": 0.4, "title": "Time", "scale": {"type": "band", "domain": ["Before conversation", "After conversation", "10 Days", "2 Months"], "paddingInner": 0, "paddingOuter": 0.1}},
       "y": {"field": "q1", "type": "quantitative", "title": "Conspiracy belief"}, "y2": {"field": "q3"}}},
     {"data": {"name": "boxes"}, "transform": [{"filter": {"and": [{"field": "c", "equal": "Treatment"}, {"field": "t", "oneOf": ["Before conversation", "After conversation"]}]}}],
      "mark": {"type": "point", "shape": "M -0.5 -1 L -0.13 0 L -0.5 1 Z M 0.5 -1 L 0.13 0 L 0.5 1 Z", "size": 256, "filled": true, "opacity": 1, "color": "#fbfbfb", "strokeWidth": 0},
      "encoding": {"x": {"field": "t", "type": "nominal", "bandPosition": 0.4, "title": "Time", "scale": {"type": "band", "domain": ["Before conversation", "After conversation", "10 Days", "2 Months"], "paddingInner": 0, "paddingOuter": 0.1}},
       "y": {"field": "med", "type": "quantitative", "title": "Conspiracy belief"}}},
     {"data": {"name": "boxes"}, "transform": [{"filter": {"and": [{"field": "c", "equal": "Control"}, {"field": "t", "oneOf": ["10 Days", "2 Months"]}]}}],
      "mark": {"type": "rule", "strokeWidth": 1.5, "color": "#5a90da"},
      "encoding": {"x": {"field": "t", "type": "nominal", "bandPosition": 0.593, "title": "Time", "scale": {"type": "band", "domain": ["Before conversation", "After conversation", "10 Days", "2 Months"], "paddingInner": 0, "paddingOuter": 0.1}},
       "y": {"field": "lo", "type": "quantitative", "title": "Conspiracy belief"}, "y2": {"field": "hi"}}},
     {"data": {"name": "boxes"}, "transform": [{"filter": {"and": [{"field": "c", "equal": "Control"}, {"field": "t", "oneOf": ["10 Days", "2 Months"]}]}}],
      "mark": {"type": "rule", "strokeWidth": 6.5, "strokeCap": "butt", "color": "#3a72c2"},
      "encoding": {"x": {"field": "t", "type": "nominal", "bandPosition": 0.593, "title": "Time", "scale": {"type": "band", "domain": ["Before conversation", "After conversation", "10 Days", "2 Months"], "paddingInner": 0, "paddingOuter": 0.1}},
       "y": {"field": "q1", "type": "quantitative", "title": "Conspiracy belief"}, "y2": {"field": "q3"}}},
     {"data": {"name": "boxes"}, "transform": [{"filter": {"and": [{"field": "c", "equal": "Control"}, {"field": "t", "oneOf": ["10 Days", "2 Months"]}]}}],
      "mark": {"type": "point", "shape": "M -0.5 -1 L -0.13 0 L -0.5 1 Z M 0.5 -1 L 0.13 0 L 0.5 1 Z", "size": 256, "filled": true, "opacity": 1, "color": "#fbfbfb", "strokeWidth": 0},
      "encoding": {"x": {"field": "t", "type": "nominal", "bandPosition": 0.593, "title": "Time", "scale": {"type": "band", "domain": ["Before conversation", "After conversation", "10 Days", "2 Months"], "paddingInner": 0, "paddingOuter": 0.1}},
       "y": {"field": "med", "type": "quantitative", "title": "Conspiracy belief"}}},
     {"data": {"name": "boxes"}, "transform": [{"filter": {"and": [{"field": "c", "equal": "Treatment"}, {"field": "t", "oneOf": ["10 Days", "2 Months"]}]}}],
      "mark": {"type": "rule", "strokeWidth": 1.5, "color": "#d0604a"},
      "encoding": {"x": {"field": "t", "type": "nominal", "bandPosition": 0.656, "title": "Time", "scale": {"type": "band", "domain": ["Before conversation", "After conversation", "10 Days", "2 Months"], "paddingInner": 0, "paddingOuter": 0.1}},
       "y": {"field": "lo", "type": "quantitative", "title": "Conspiracy belief"}, "y2": {"field": "hi"}}},
     {"data": {"name": "boxes"}, "transform": [{"filter": {"and": [{"field": "c", "equal": "Treatment"}, {"field": "t", "oneOf": ["10 Days", "2 Months"]}]}}],
      "mark": {"type": "rule", "strokeWidth": 6.5, "strokeCap": "butt", "color": "#c24a2c"},
      "encoding": {"x": {"field": "t", "type": "nominal", "bandPosition": 0.656, "title": "Time", "scale": {"type": "band", "domain": ["Before conversation", "After conversation", "10 Days", "2 Months"], "paddingInner": 0, "paddingOuter": 0.1}},
       "y": {"field": "q1", "type": "quantitative", "title": "Conspiracy belief"}, "y2": {"field": "q3"}}},
     {"data": {"name": "boxes"}, "transform": [{"filter": {"and": [{"field": "c", "equal": "Treatment"}, {"field": "t", "oneOf": ["10 Days", "2 Months"]}]}}],
      "mark": {"type": "point", "shape": "M -0.5 -1 L -0.13 0 L -0.5 1 Z M 0.5 -1 L 0.13 0 L 0.5 1 Z", "size": 256, "filled": true, "opacity": 1, "color": "#fbfbfb", "strokeWidth": 0},
      "encoding": {"x": {"field": "t", "type": "nominal", "bandPosition": 0.656, "title": "Time", "scale": {"type": "band", "domain": ["Before conversation", "After conversation", "10 Days", "2 Months"], "paddingInner": 0, "paddingOuter": 0.1}},
       "y": {"field": "med", "type": "quantitative", "title": "Conspiracy belief"}}},
     {"data": {"name": "means"}, "mark": {"type": "rule", "strokeWidth": 2},
      "encoding": {"x": {"field": "t", "type": "nominal", "bandPosition": 0.5, "title": "Time", "scale": {"type": "band", "domain": ["Before conversation", "After conversation", "10 Days", "2 Months"], "paddingInner": 0, "paddingOuter": 0.1}},
       "y": {"field": "lo", "type": "quantitative", "title": "Conspiracy belief"}, "y2": {"field": "hi"},
       "color": {"condition": {"test": "datum.c === 'Control'", "value": "#2f6fc4"}, "value": "#c0412a"}}},
     {"data": {"name": "means"}, "mark": {"type": "tick", "thickness": 2, "size": 9},
      "encoding": {"x": {"field": "t", "type": "nominal", "title": "Time", "scale": {"type": "band", "domain": ["Before conversation", "After conversation", "10 Days", "2 Months"], "paddingInner": 0, "paddingOuter": 0.1}},
       "y": {"field": "lo", "type": "quantitative", "title": "Conspiracy belief"},
       "color": {"condition": {"test": "datum.c === 'Control'", "value": "#2f6fc4"}, "value": "#c0412a"}}},
     {"data": {"name": "means"}, "mark": {"type": "tick", "thickness": 2, "size": 9},
      "encoding": {"x": {"field": "t", "type": "nominal", "title": "Time", "scale": {"type": "band", "domain": ["Before conversation", "After conversation", "10 Days", "2 Months"], "paddingInner": 0, "paddingOuter": 0.1}},
       "y": {"field": "hi", "type": "quantitative", "title": "Conspiracy belief"},
       "color": {"condition": {"test": "datum.c === 'Control'", "value": "#2f6fc4"}, "value": "#c0412a"}}}
    ]
   }
  ]
 },
 {
  "width": 304, "height": 295.2,
  "layer": [
   {"data": {"name": "ptsT"}, "mark": {"type": "circle", "size": 14, "opacity": 0.7},
    "encoding": {
     "x": {"field": "b", "type": "quantitative", "title": "Initial belief strength", "scale": {"domain": [46.5, 103.5], "nice": false, "zero": false}, "axis": {"values": [50, 60, 70, 80, 90, 100], "grid": true, "labelPadding": 10, "titlePadding": 2}},
     "y": {"field": "d", "type": "quantitative", "title": "Belief change", "scale": {"domain": [-105, 55], "nice": false}, "axis": {"values": [-90, -60, -30, 0, 30], "grid": true, "titlePadding": 5}},
     "color": {"datum": "Treatment", "type": "nominal", "scale": {"domain": ["Control", "Treatment"], "range": ["#7f9fe0", "#d8794c"]},
      "legend": {"orient": "none", "legendX": 1, "legendY": -16, "direction": "horizontal", "title": null, "symbolType": "circle", "symbolSize": 90, "symbolOpacity": 1, "symbolStrokeWidth": 0, "labelFontSize": 12.5, "labelColor": "#444444", "columnPadding": 12, "labelOffset": 4, "padding": 0}}
    }},
   {"data": {"name": "ptsC"}, "mark": {"type": "circle", "size": 14, "opacity": 0.7},
    "encoding": {
     "x": {"field": "b", "type": "quantitative", "title": "Initial belief strength"},
     "y": {"field": "d", "type": "quantitative", "title": "Belief change"},
     "color": {"datum": "Control", "type": "nominal"}
    }},
   {"data": {"name": "trend"}, "mark": {"type": "area", "opacity": 0.55},
    "encoding": {
     "x": {"field": "b", "type": "quantitative", "title": "Initial belief strength"},
     "y": {"field": "lo", "type": "quantitative", "title": "Belief change"}, "y2": {"field": "hi"},
     "detail": {"field": "c"},
     "fill": {"condition": {"test": "datum.c === 'Control'", "value": "#8fabe6"}, "value": "#e3a082"}
    }},
   {"data": {"values": [{}]}, "mark": {"type": "rule", "strokeDash": [4, 3], "color": "#222222", "strokeWidth": 1.2},
    "encoding": {"y": {"datum": 0}}},
   {"data": {"name": "trend"}, "mark": {"type": "line", "strokeWidth": 4},
    "encoding": {
     "x": {"field": "b", "type": "quantitative", "title": "Initial belief strength"},
     "y": {"field": "fit", "type": "quantitative", "title": "Belief change"},
     "detail": {"field": "c"},
     "color": {"condition": {"test": "datum.c === 'Control'", "value": "#2f6fc4"}, "value": "#b83d26"}
    }}
  ]
 }
],
"config": {
 "font": "Roboto, sans-serif",
 "view": {"stroke": null},
 "axis": {"labelFontSize": 12.5, "labelColor": "#555555", "titleFontSize": 12.5, "titleFontWeight": "bold", "titleColor": "#1a1a1a", "gridColor": "#d6d6dc", "gridWidth": 1.2, "domain": false, "ticks": false, "labelPadding": 5}
}
}
